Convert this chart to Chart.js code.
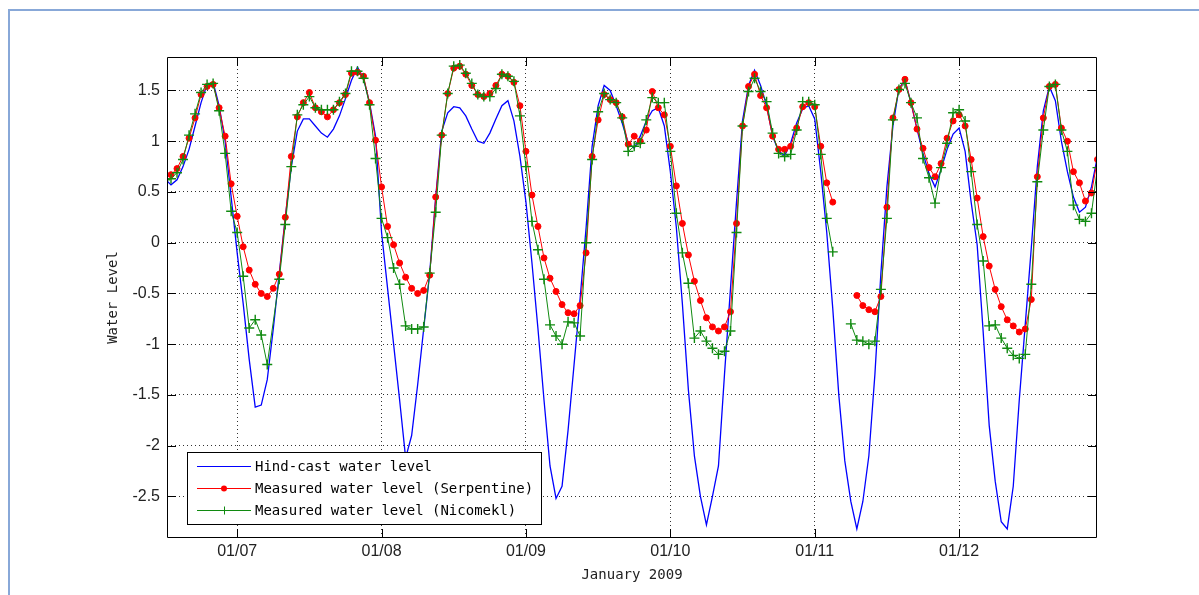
<!DOCTYPE html>
<html>
<head>
<meta charset="utf-8">
<script src="https://cdn.jsdelivr.net/npm/chart.js@4.4.1/dist/chart.umd.min.js"></script>
<style>
  html, body { margin: 0; padding: 0; background: #fff; }
  #wrap { position: relative; width: 1199px; height: 595px; overflow: hidden; }
  #frame { position: absolute; left: 8px; top: 9px; width: 1300px; height: 700px;
           border-left: 2px solid #88a8d8; border-top: 2px solid #88a8d8; }
  #plot { position: absolute; left: 0; top: 0; }
</style>
</head>
<body>
<div id="wrap">
  <div id="frame"></div>
  <canvas id="plot" width="1199" height="595"></canvas>
</div>
<script>
// hourly samples starting 6 Jan 2009 12:00 (x axis in days of January)
const startDay = 6.5;

const hindcast = [
  0.63, 0.57, 0.62, 0.75, 0.92, 1.15, 1.38, 1.56, 1.58, 1.35,
  1.00, 0.45, -0.10, -0.60, -1.15, -1.62, -1.60, -1.35, -0.85, -0.30,
  0.25, 0.75, 1.10, 1.22, 1.22, 1.15, 1.08, 1.04, 1.12, 1.25,
  1.42, 1.60, 1.73, 1.62, 1.38, 1.05, 0.10, -0.45, -1.00, -1.55,
  -2.12, -1.90, -1.40, -0.85, -0.30, 0.45, 1.10, 1.28, 1.34, 1.33,
  1.25, 1.12, 1.00, 0.98, 1.08, 1.22, 1.35, 1.40, 1.20, 0.85,
  0.40, -0.20, -0.85, -1.55, -2.20, -2.52, -2.40, -1.85, -1.20, -0.55,
  0.15, 0.95, 1.35, 1.55, 1.50, 1.35, 1.18, 0.98, 0.93, 1.05,
  1.20, 1.30, 1.33, 1.15, 0.70, 0.15, -0.60, -1.45, -2.10, -2.50,
  -2.78, -2.50, -2.20, -1.30, -0.45, 0.40, 1.20, 1.55, 1.70, 1.55,
  1.35, 1.05, 0.90, 0.86, 0.98, 1.18, 1.32, 1.35, 1.22, 0.70,
  0.10, -0.65, -1.50, -2.15, -2.55, -2.82, -2.55, -2.10, -1.30, -0.30,
  0.55, 1.15, 1.52, 1.60, 1.38, 1.12, 0.88, 0.68, 0.55, 0.72,
  0.92, 1.07, 1.13, 0.90, 0.40, -0.02, -0.88, -1.80, -2.35, -2.75,
  -2.82, -2.40, -1.55, -0.80, -0.05, 0.75, 1.30, 1.54, 1.40, 1.00,
  0.70, 0.45, 0.30, 0.35, 0.55, 0.85
];

const serpentine = [
  0.66, 0.67, 0.73, 0.85, 1.03, 1.23, 1.46, 1.54, 1.56, 1.33,
  1.05, 0.58, 0.26, -0.04, -0.27, -0.41, -0.50, -0.53, -0.45, -0.31,
  0.25, 0.85, 1.24, 1.38, 1.48, 1.33, 1.29, 1.24, 1.31, 1.38,
  1.46, 1.67, 1.68, 1.64, 1.38, 1.01, 0.55, 0.16, -0.02, -0.20,
  -0.34, -0.45, -0.50, -0.47, -0.32, 0.45, 1.06, 1.47, 1.72, 1.74,
  1.66, 1.55, 1.46, 1.44, 1.47, 1.55, 1.66, 1.64, 1.58, 1.35,
  0.90, 0.47, 0.16, -0.15, -0.35, -0.48, -0.61, -0.69, -0.70, -0.62,
  -0.10, 0.85, 1.21, 1.46, 1.41, 1.38, 1.24, 0.97, 1.05, 1.00,
  1.11, 1.49, 1.33, 1.26, 0.95, 0.56, 0.19, -0.12, -0.38, -0.57,
  -0.74, -0.83, -0.87, -0.83, -0.68, 0.19, 1.15, 1.54, 1.66, 1.45,
  1.33, 1.05, 0.92, 0.92, 0.95, 1.13, 1.34, 1.38, 1.34, 0.95,
  0.59, 0.40, null, null, null, -0.52, -0.62, -0.66, -0.68, -0.53,
  0.35, 1.23, 1.51, 1.61, 1.38, 1.12, 0.93, 0.74, 0.65, 0.78,
  1.03, 1.20, 1.26, 1.15, 0.82, 0.44, 0.06, -0.23, -0.46, -0.63,
  -0.76, -0.82, -0.88, -0.85, -0.56, 0.65, 1.23, 1.54, 1.56, 1.13,
  1.00, 0.70, 0.59, 0.41, 0.49, 0.82
];

const nicomekl = [
  0.62, 0.63, 0.69, 0.82, 1.06, 1.27, 1.48, 1.56, 1.57, 1.30,
  0.88, 0.31, 0.10, -0.33, -0.84, -0.76, -0.91, -1.20, null, -0.36,
  0.18, 0.75, 1.26, 1.36, 1.44, 1.33, 1.31, 1.31, 1.31, 1.39,
  1.47, 1.69, 1.69, 1.62, 1.36, 0.83, 0.24, 0.05, -0.25, -0.41,
  -0.82, -0.85, -0.85, -0.83, -0.30, 0.30, 1.06, 1.47, 1.74, 1.75,
  1.67, 1.57, 1.46, 1.44, 1.44, 1.52, 1.66, 1.64, 1.59, 1.25,
  0.75, 0.21, -0.07, -0.36, -0.81, -0.92, -1.00, -0.78, -0.79, -0.92,
  0.00, 0.82, 1.29, 1.47, 1.41, 1.38, 1.23, 0.90, 0.95, 0.98,
  1.21, 1.43, 1.38, 1.38, 0.90, 0.29, -0.10, -0.40, -0.94, -0.87,
  -0.97, -1.04, -1.10, -1.07, -0.87, 0.10, 1.15, 1.49, 1.62, 1.49,
  1.39, 1.08, 0.88, 0.85, 0.87, 1.11, 1.39, 1.39, 1.36, 0.87,
  0.24, -0.09, null, null, -0.80, -0.96, -0.97, -1.00, -0.97, -0.46,
  0.24, 1.21, 1.51, 1.57, 1.38, 1.23, 0.83, 0.64, 0.39, 0.74,
  0.98, 1.28, 1.31, 1.20, 0.70, 0.18, -0.18, -0.82, -0.81, -0.94,
  -1.04, -1.11, -1.14, -1.10, -0.41, 0.60, 1.11, 1.54, 1.56, 1.11,
  0.90, 0.37, 0.23, 0.21, 0.29, 0.74
];

const yTicks = [-2.5, -2, -1.5, -1, -0.5, 0, 0.5, 1, 1.5];
const xTickDays = [7, 8, 9, 10, 11, 12];
const xTickLabels = ["01/07", "01/08", "01/09", "01/10", "01/11", "01/12"];

// turn an hourly list into x/y points, leaving out missing hours
function toPoints(values) {
  return values
    .map((v, i) => ({ x: startDay + i / 24, y: v }))
    .filter(p => p.y !== null);
}

// MATLAB style box with inward ticks on all four sides
const boxPlugin = {
  id: "matlabBox",
  afterDraw(chart) {
    const { ctx, chartArea: a, scales } = chart;
    const tick = 9;
    ctx.save();
    ctx.strokeStyle = "#000";
    ctx.lineWidth = 1;
    ctx.beginPath();
    ctx.rect(a.left + 0.5, a.top + 0.5, a.right - a.left - 1, a.bottom - a.top - 1);
    scales.x.ticks.forEach(t => {
      const px = Math.round(scales.x.getPixelForValue(t.value)) + 0.5;
      ctx.moveTo(px, a.bottom); ctx.lineTo(px, a.bottom - tick);
      ctx.moveTo(px, a.top); ctx.lineTo(px, a.top + tick);
    });
    scales.y.ticks.forEach(t => {
      const py = Math.round(scales.y.getPixelForValue(t.value)) + 0.5;
      ctx.moveTo(a.left, py); ctx.lineTo(a.left + tick, py);
      ctx.moveTo(a.right, py); ctx.lineTo(a.right - tick, py);
    });
    ctx.stroke();
    ctx.restore();
  }
};

// legend box in the lower left corner of the axes
const legendPlugin = {
  id: "legendBox",
  afterDraw(chart) {
    const ctx = chart.ctx;
    const L = 187, T = 452, W = 354, H = 72;
    ctx.save();
    ctx.fillStyle = "#fff";
    ctx.fillRect(L, T, W, H);
    ctx.strokeStyle = "#000";
    ctx.lineWidth = 1;
    ctx.strokeRect(L + 0.5, T + 0.5, W, H);
    ctx.font = '14px "DejaVu Sans Mono"';
    ctx.textBaseline = "middle";
    chart.data.datasets.forEach((ds, i) => {
      const y = T + 14 + i * 22 + 0.5;
      ctx.strokeStyle = ds.borderColor;
      ctx.fillStyle = ds.borderColor;
      ctx.lineWidth = 1;
      ctx.beginPath();
      ctx.moveTo(197, y); ctx.lineTo(251, y);
      ctx.stroke();
      if (ds.pointStyle === "circle" && ds.pointRadius > 0) {
        ctx.beginPath();
        ctx.arc(224, y, 3, 0, Math.PI * 2);
        ctx.fill();
      } else if (ds.pointStyle === "cross") {
        ctx.beginPath();
        ctx.moveTo(224.5, y - 4); ctx.lineTo(224.5, y + 4);
        ctx.stroke();
      }
      ctx.fillStyle = "#000";
      ctx.fillText(ds.label, 255, y + 1);
    });
    ctx.restore();
  }
};

const tickFont = { family: '"Liberation Sans", Arial, sans-serif', size: 16 };
const titleFont = { family: '"DejaVu Sans Mono", monospace', size: 14 };

new Chart(document.getElementById("plot"), {
  type: "line",
  data: {
    datasets: [
      {
        label: "Hind-cast water level",
        data: toPoints(hindcast),
        borderColor: "#0000ff",
        borderWidth: 1.3,
        pointRadius: 0,
        tension: 0,
        order: 2
      },
      {
        label: "Measured water level (Serpentine)",
        data: toPoints(serpentine),
        borderColor: "#ff0000",
        backgroundColor: "#ff0000",
        borderWidth: 1,
        pointStyle: "circle",
        pointRadius: 3,
        pointBorderWidth: 1,
        spanGaps: 0.1,
        tension: 0,
        order: 1
      },
      {
        label: "Measured water level (Nicomekl)",
        data: toPoints(nicomekl),
        borderColor: "#108a10",
        backgroundColor: "#108a10",
        borderWidth: 1,
        pointStyle: "cross",
        pointRadius: 5,
        pointBorderWidth: 1.4,
        spanGaps: 0.1,
        tension: 0,
        order: 0
      }
    ]
  },
  options: {
    responsive: false,
    animation: false,
    devicePixelRatio: 1,
    layout: { padding: { left: 101, top: 57, right: 102, bottom: 7 } },
    plugins: { legend: { display: false }, tooltip: { enabled: false } },
    scales: {
      x: {
        type: "linear",
        min: 6.514,
        max: 12.955,
        afterBuildTicks: scale => { scale.ticks = xTickDays.map(v => ({ value: v })); },
        afterFit: scale => { scale.height = 50; },
        ticks: {
          padding: 4,
          color: "#222",
          font: tickFont,
          maxRotation: 0,
          callback: v => xTickLabels[xTickDays.indexOf(v)]
        },
        grid: { color: "#333", lineWidth: 1, drawTicks: false },
        border: { display: false, dash: [1, 3] },
        title: { display: true, text: "January 2009", color: "#222", font: titleFont, padding: { top: 4, bottom: 4 } }
      },
      y: {
        min: -2.91,
        max: 1.83,
        afterBuildTicks: scale => { scale.ticks = yTicks.map(v => ({ value: v })); },
        afterFit: scale => { scale.width = 66; },
        ticks: {
          padding: 7,
          color: "#222",
          font: tickFont,
          callback: v => String(v)
        },
        grid: { color: "#333", lineWidth: 1, drawTicks: false },
        border: { display: false, dash: [1, 3] },
        title: { display: true, text: "Water Level", color: "#222", font: titleFont, padding: { top: 4, bottom: 4 } }
      }
    }
  },
  plugins: [boxPlugin, legendPlugin]
});
</script>
</body>
</html>
